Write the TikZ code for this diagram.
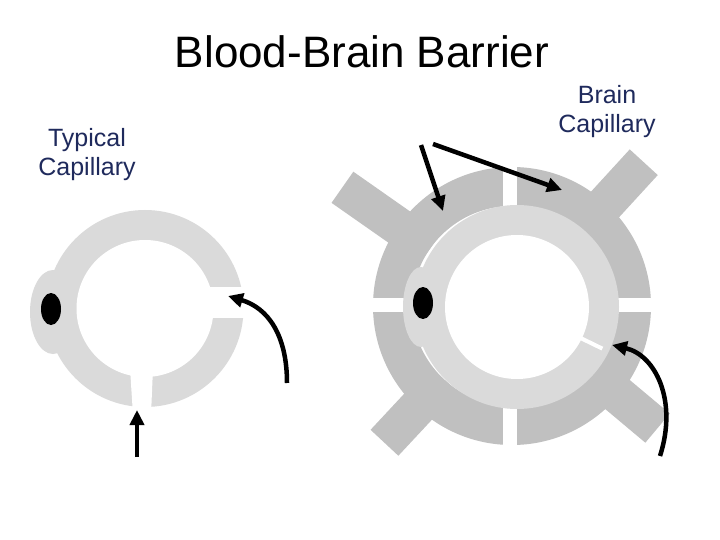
\documentclass[tikz,border=0pt]{standalone}
\usepackage{fontspec}
\setmainfont{Liberation Sans}
\usetikzlibrary{arrows.meta,calc}
\definecolor{lite}{HTML}{DADADA}
\definecolor{dark}{HTML}{C0C0C0}
\definecolor{lbl}{HTML}{1F2A5C}
\begin{document}
\begin{tikzpicture}[x=1pt,y=-1pt,
  arr/.style={line width=4.5pt,-{Triangle[length=15pt,width=14pt]}},
  arm/.style={dark,line width=38pt},
  gap/.style={white,line width=14pt},
  lbltext/.style={text=lbl,font=\fontsize{25}{29}\selectfont,align=center}]
\useasboundingbox[fill=white] (0,0) rectangle (720,540);
% title and labels
\node[font=\fontsize{44}{46}\selectfont] (title) at (362,52) {Blood-Brain Barrier};
\node[lbltext] (typ) at (87,155) {Typical\\Capillary};
\node[lbltext] (brn) at (607,112) {Brain\\Capillary};
% ---- typical capillary
\coordinate (lc) at (145,308.5);
\fill[lite] (lc) circle (98.5);
\fill[lite] (53,312) ellipse (23 and 42);
\fill[white] (lc) circle (68.5);
\fill[white] (200,287) rectangle (250,318);
\fill[white] (130,368) -- (153,368) -- (151,415) -- (133,415) -- cycle;
\fill[black] (51,309) ellipse (10 and 16);
% ---- brain capillary
\coordinate (rc) at (512,306);
\foreach \a/\l in {-145/207,-47.5/195,133/187,40/190}
  \draw[arm] ($(rc)+(\a:100)$) -- ($(rc)+(\a:\l)$);
\fill[dark,even odd rule] (rc) circle (139) (rc) circle (100);
\draw[gap] (510,160) -- (510,215);
\draw[gap] (510,400) -- (510,452);
\draw[gap] (365,305) -- (415,305);
\draw[gap] (610,305) -- (660,305);
\coordinate (ic) at (517,307);
\fill[lite] (ic) circle (102);
\fill[lite] (421,307) ellipse (18 and 40);
\fill[white] (ic) circle (72);
\draw[white,line width=4pt] ($(ic)+(26:68)$) -- ($(ic)+(26:95)$);
\fill[black] (423,303) ellipse (10 and 16);
% ---- arrows
\coordinate (a1s) at (137,457); \coordinate (a1e) at (137,410);
\draw[arr] (a1s) -- (a1e);
\coordinate (a2s) at (287,383); \coordinate (a2e) at (228,296);
\draw[arr] (a2s) .. controls (287,335) and (268,308) .. (a2e);
\coordinate (a3s) at (660,456); \coordinate (a3e) at (612,345);
\draw[arr] (a3s) .. controls (678,400) and (655,355) .. (a3e);
\coordinate (a4s) at (421,145); \coordinate (a4e) at (443,211);
\draw[arr] (a4s) -- (a4e);
\coordinate (a5s) at (433,144); \coordinate (a5e) at (562,190);
\draw[arr] (a5s) -- (a5e);
\end{tikzpicture}
\end{document}
